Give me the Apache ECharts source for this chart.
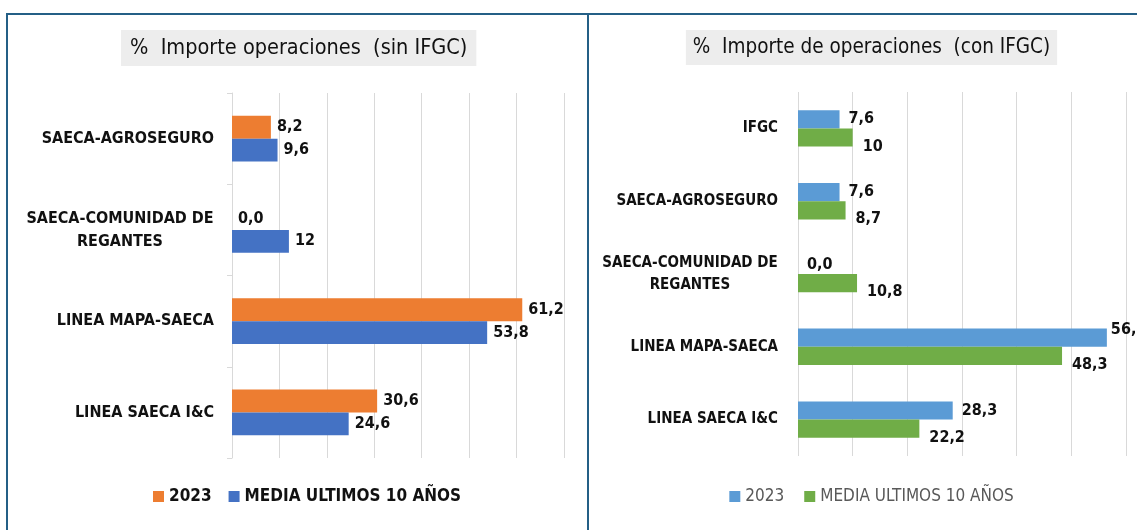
<!DOCTYPE html>
<html>
<head>
<meta charset="utf-8">
<script src="https://cdn.jsdelivr.net/npm/echarts@6/dist/echarts.min.js"></script>
<style>
html, body { margin: 0; padding: 0; width: 1137px; height: 530px; overflow: hidden; background: #fff; }
#left { position: absolute; left: 0; top: 0; width: 588px; height: 530px; }
#right { position: absolute; left: 588px; top: 0; width: 567px; height: 530px; }
.frame { position: absolute; border: 2px solid #245f86; box-sizing: border-box; }
</style>
</head>
<body>
<div id="left"></div>
<div id="right"></div>
<div class="frame" style="left:6px;top:13px;width:583px;height:560px"></div>
<div class="frame" style="left:587px;top:13px;width:600px;height:560px"></div>
<script>
// left chart: sin IFGC
const leftCats = ['SAECA-AGROSEGURO', 'SAECA-COMUNIDAD DE\nREGANTES', 'LINEA MAPA-SAECA', 'LINEA SAECA I&C']
const left2023 = [8.2, 0.0, 61.2, 30.6]
const leftMedia = [9.6, 12, 53.8, 24.6]

// right chart: con IFGC
const rightCats = ['IFGC', 'SAECA-AGROSEGURO', 'SAECA-COMUNIDAD DE\nREGANTES', 'LINEA MAPA-SAECA', 'LINEA SAECA I&C']
const right2023 = [7.6, 7.6, 0.0, 56.5, 28.3]
const rightMedia = [10, 8.7, 10.8, 48.3, 22.2]

const seriesNames = ['2023', 'MEDIA ULTIMOS 10 AÑOS']

const FONT = '"Liberation Sans Narrow", "DejaVu Sans Condensed", sans-serif'

// excel "General" style: whole numbers without decimals, else one decimal with comma
const fmt = v => (v !== 0 && Number.isInteger(v)) ? String(v) : v.toFixed(1).replace('.', ',')

function measure(text, size) {
  const ctx = document.createElement('canvas').getContext('2d')
  ctx.font = 'bold ' + size + 'px ' + FONT
  return Math.ceil(ctx.measureText(text).width)
}

// multi-line category labels are centred line by line, block right-aligned to the axis
function catLabel(size) {
  return {
    fontFamily: FONT, fontSize: size, fontWeight: 'bold', color: '#111', lineHeight: size + 7,
    formatter: v => {
      if (v.indexOf('\n') < 0) return v
      return v.split('\n').map(s => '{m|' + s + '}').join('\n')
    },
    rich: { m: { fontFamily: FONT, fontSize: size, fontWeight: 'bold', color: '#111', align: 'center', lineHeight: size + 7,
      width: measure('SAECA-COMUNIDAD DE', size) } }
  }
}

function barLabel(size, dist, dy) {
  return {
    show: true, position: 'right', distance: dist, offset: [0, dy],
    fontFamily: FONT, fontSize: size, fontWeight: 'bold', color: '#111',
    formatter: p => fmt(p.value)
  }
}

const leftChart = echarts.init(document.getElementById('left'))
leftChart.setOption({
  animation: false,
  title: {
    text: '%  Importe operaciones  (sin IFGC)', left: 121, top: 30,
    backgroundColor: '#ededed', padding: [7, 9],
    textStyle: { fontFamily: FONT, fontSize: 21.5, fontWeight: 'normal', color: '#111' }
  },
  legend: {
    bottom: 20, left: 148, itemWidth: 11, itemHeight: 11, itemGap: 17, icon: 'rect',
    textStyle: { fontFamily: FONT, fontSize: 17, fontWeight: 'bold', color: '#111' }
  },
  grid: { left: 232, right: 24, top: 93, bottom: 72, outerBoundsMode: 'none' },
  xAxis: {
    type: 'value', min: 0, max: 70, interval: 10,
    axisLabel: { show: false }, axisLine: { show: false }, axisTick: { show: false },
    splitLine: { lineStyle: { color: '#d9d9d9' } }
  },
  yAxis: {
    type: 'category', inverse: true, data: leftCats,
    axisLine: { lineStyle: { color: '#d9d9d9' } },
    axisTick: { show: true, length: 5, lineStyle: { color: '#d9d9d9' } },
    axisLabel: Object.assign({ margin: 18 }, catLabel(16))
  },
  series: [
    { name: seriesNames[0], type: 'bar', data: left2023, barGap: '0%', barCategoryGap: '50%',
      itemStyle: { color: '#ed7d31' }, label: barLabel(16, 6, 0) },
    { name: seriesNames[1], type: 'bar', data: leftMedia,
      itemStyle: { color: '#4472c4' }, label: barLabel(16, 6, 0) }
  ]
})

const rightChart = echarts.init(document.getElementById('right'))
rightChart.setOption({
  animation: false,
  title: {
    text: '%  Importe de operaciones  (con IFGC)', left: 'center', top: 30,
    backgroundColor: '#ededed', padding: [7, 7],
    textStyle: { fontFamily: FONT, fontSize: 20.5, fontWeight: 'normal', color: '#111' }
  },
  legend: {
    bottom: 20, left: 'center', itemWidth: 11, itemHeight: 11, itemGap: 20, icon: 'rect',
    textStyle: { fontFamily: FONT, fontSize: 17, color: '#595959' }
  },
  grid: { left: 210, right: 29, top: 92, bottom: 74, outerBoundsMode: 'none' },
  xAxis: {
    type: 'value', min: 0, max: 60, interval: 10,
    axisLabel: { show: false }, axisLine: { show: false }, axisTick: { show: false },
    splitLine: { lineStyle: { color: '#d9d9d9' } }
  },
  yAxis: {
    type: 'category', inverse: true, data: rightCats,
    axisLine: { show: false }, axisTick: { show: false },
    axisLabel: Object.assign({ margin: 20 }, catLabel(15))
  },
  series: [
    { name: seriesNames[0], type: 'bar', barGap: '0%', barCategoryGap: '50%',
      // the longest bar's label sits a little higher, tucked against the frame edge
      data: right2023.map((v, i) => i === 3 ? { value: v, label: { distance: 4, offset: [0, -8] } } : v),
      itemStyle: { color: '#5b9bd5' }, label: barLabel(16, 9, 0) },
    { name: seriesNames[1], type: 'bar', data: rightMedia,
      itemStyle: { color: '#70ad47' }, label: barLabel(16, 10, 9) }
  ]
})
</script>
</body>
</html>
